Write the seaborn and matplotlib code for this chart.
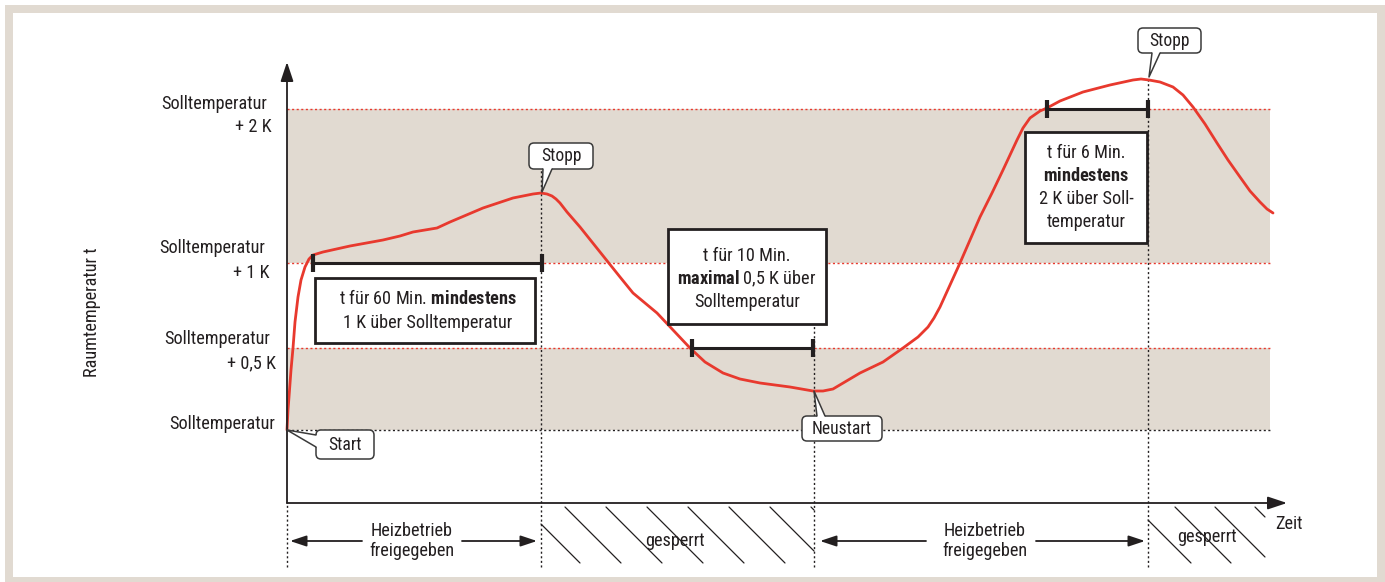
import matplotlib
matplotlib.use("Agg")
import matplotlib.pyplot as plt
from matplotlib import font_manager as fm
from matplotlib.patches import Rectangle, FancyBboxPatch, Polygon
import pandas as pd
import seaborn as sns

# schematic units: time t (x), height h above Solltemperatur (y); 1 h-unit ~ 100 t-units
t_curve = [0, 1, 2, 4, 6, 8, 11, 14, 18, 22, 26, 36, 63, 96, 113, 126, 138, 150, 163, 196,
           226, 246, 254, 260, 265, 269, 273, 280, 293, 313, 333, 346, 370, 403, 418, 436, 453, 473, 503, 526,
           536, 546, 573, 596, 616, 631, 641, 647, 653, 663, 673, 683, 693, 705, 716, 723, 730, 736, 743, 753,
           760, 773, 796, 823, 846, 854, 862, 873, 886, 896, 906, 918, 930, 941, 953, 963, 973, 980, 986]
h_curve = [0, 0.20, 0.33, 0.60, 0.82, 1.08, 1.33, 1.50, 1.63, 1.71, 1.75, 1.78, 1.84, 1.90, 1.94, 1.98, 2.00, 2.02, 2.08, 2.22,
           2.32, 2.36, 2.37, 2.36, 2.34, 2.31, 2.27, 2.18, 2.03, 1.78, 1.53, 1.37, 1.17, 0.82, 0.68, 0.57, 0.51, 0.47, 0.43, 0.39,
           0.39, 0.41, 0.57, 0.68, 0.82, 0.93, 1.03, 1.12, 1.23, 1.45, 1.67, 1.90, 2.13, 2.37, 2.60, 2.75, 2.90, 3.02, 3.12, 3.19,
           3.22, 3.29, 3.38, 3.45, 3.50, 3.51, 3.50, 3.48, 3.43, 3.35, 3.23, 3.06, 2.87, 2.70, 2.53, 2.39, 2.28, 2.21, 2.17]

# temperature levels (y "ticks")
level_h = [0, 0.82, 1.67, 3.21]
level_name = ["Solltemperatur", "Solltemperatur", "Solltemperatur", "Solltemperatur"]
level_sub = ["", "+ 0,5 K", "+ 1 K", "+ 2 K"]
name_pos = [(-12, 0.06), (-17, 0.91), (-22, 1.82), (-20, 3.26)]
sub_pos = [None, (-11, 0.67), (-17, 1.57), (-15, 3.03)]
t_end = 983

# events on the time axis
event_t = [0, 254, 527, 861]
event_name = ["Start", "Stopp", "Neustart", "Stopp"]

# hold-time brackets (t0, t1, level)
brackets = [(26, 255, 1.67), (405, 526, 0.82), (760, 861, 3.21)]

box_lines = [
    ["t für 60 Min. $\\mathbf{mindestens}$", "1 K über Solltemperatur"],
    ["t für 10 Min.", "$\\mathbf{maximal}$ 0,5 K über", "Solltemperatur"],
    ["t für 6 Min.", "$\\mathbf{mindestens}$", "2 K über Soll-", "temperatur"],
]
box_rect = [(28, 248, 0.87, 1.52), (381, 539, 1.06, 2.01), (738, 860, 1.87, 2.98)]
box_line_h = [[1.31, 1.07], [1.74, 1.51, 1.28], [2.77, 2.54, 2.31, 2.08]]
box_cx = [141, 460, 799]

phase_text = ["Heizbetrieb\nfreigegeben", "gesperrt", "Heizbetrieb\nfreigegeben", "gesperrt"]

RED = "#e8392e"
DARK = "#231f20"
BEIGE = "#e1dad1"

sns.set_theme(style="white")

# pick a narrow font if one is installed
fonts = fm.fontManager.ttflist
names = {f.name for f in fonts}
family, stretch = None, "normal"
for p in ["Liberation Sans Narrow", "Roboto Condensed", "Open Sans Condensed",
          "Noto Sans Condensed", "DejaVu Sans Condensed", "Arial Narrow"]:
    if p in names:
        family = p
        break
if family is None:
    for base in ["DejaVu Sans", "Noto Sans", "Roboto", "Open Sans", "Liberation Sans"]:
        cond = [f for f in fonts if f.name == base and f.stretch in ("condensed", "semi-condensed")]
        if cond:
            family, stretch = base, cond[0].stretch
            break
if family is None:
    family = "Roboto" if "Roboto" in names else "DejaVu Sans"

plt.rcParams["font.family"] = [family, "DejaVu Sans"]
plt.rcParams["font.stretch"] = stretch
plt.rcParams["mathtext.fontset"] = "custom"
plt.rcParams["mathtext.rm"] = f"{family}:stretch={stretch}"
plt.rcParams["mathtext.bf"] = f"{family}:weight=bold:stretch={stretch}"

fig = plt.figure(figsize=(13.85, 5.82), dpi=100)
fig.patch.set_facecolor("white")

# font size so that "Solltemperatur" is about as wide as in the original
probe = fig.text(0, 0, "Solltemperatur", fontsize=10)
w10 = probe.get_window_extent(fig.canvas.get_renderer()).width
probe.remove()
FS = min(14.3, 10 * 106 / w10)

# outer beige frame
fig.add_artist(Rectangle((5 / 1385, 0), 1.1, 1 - 5 / 582, transform=fig.transFigure,
                         facecolor=BEIGE, edgecolor="none", zorder=-20))
fig.add_artist(Rectangle((13 / 1385, 5 / 582), (1377 - 13) / 1385, (577 - 13) / 582,
                         transform=fig.transFigure, facecolor="white", edgecolor="none", zorder=-19))

ax = fig.add_axes([0, 0, 1, 1])
ax.set_xlim(-287, 1098)
ax.set_ylim(-1.52, 4.30)
ax.axis("off")

# bands
ax.fill_between([0, t_end], 0, level_h[1], color=BEIGE, lw=0, zorder=1)
ax.fill_between([0, t_end], level_h[2], level_h[3], color=BEIGE, lw=0, zorder=1)
for i, h in enumerate(level_h):
    ax.plot([0, t_end], [h, h], color=DARK if i == 0 else RED, lw=1.0,
            ls=(0, (1.5, 1.8)), zorder=2)

# level labels
for i in range(len(level_h)):
    ax.text(name_pos[i][0], name_pos[i][1], level_name[i], ha="right", va="center",
            fontsize=FS, color=DARK)
    if level_sub[i]:
        ax.text(sub_pos[i][0], sub_pos[i][1], level_sub[i], ha="right", va="center",
                fontsize=FS, color=DARK)
ax.text(-195, 1.18, "Raumtemperatur t", rotation=90, ha="center", va="center",
        fontsize=FS, color=DARK)

# axes arrows
h_axis = -0.73
head = dict(arrowstyle="-|>,head_length=0.9,head_width=0.3", color=DARK, lw=1.3,
            mutation_scale=13, shrinkA=0, shrinkB=0)
ax.annotate("", xy=(0, 3.68), xytext=(0, h_axis), arrowprops=head, zorder=5)
ax.annotate("", xy=(1000, h_axis), xytext=(0, h_axis), arrowprops=head, zorder=5)
ax.text(988, -0.94, "Zeit", ha="left", va="center", fontsize=FS, color=DARK)

# vertical event lines
v_top = [h_axis, 2.61, 1.06, 3.53]
for t, top in zip(event_t, v_top):
    ax.plot([t, t], [-1.37, top], color=DARK, lw=1.0, ls=(0, (1.5, 1.8)), zorder=3)

# curve
df = pd.DataFrame({"t": t_curve, "h": h_curve})
sns.lineplot(data=df, x="t", y="h", ax=ax, color=RED, lw=2.0, sort=False, zorder=4)

# brackets
for t0, t1, h in brackets:
    ax.plot([t0, t1], [h, h], color=DARK, lw=2.2, zorder=5, solid_capstyle="butt")
    for tt in (t0, t1):
        ax.plot([tt, tt], [h - 0.09, h + 0.09], color=DARK, lw=3.0, zorder=5, solid_capstyle="butt")

# text boxes
for (x0, x1, y0, y1), lines, lh, cx in zip(box_rect, box_lines, box_line_h, box_cx):
    ax.add_patch(Rectangle((x0, y0), x1 - x0, y1 - y0, facecolor="white", edgecolor=DARK,
                           lw=2.0, zorder=6))
    for s, y in zip(lines, lh):
        ax.text(cx, y, s, ha="center", va="center", fontsize=FS, color=DARK, zorder=7)

# callouts: center, width, height, tip, base points, inward offset
callouts = [
    ((58, -0.145), 58, 0.29, (0, 0), [(29, -0.05), (29, -0.17)], (3, 0)),
    ((274, 2.74), 64, 0.26, (255, 2.38), [(256, 2.61), (265, 2.61)], (0, 0.03)),
    ((555, 0.015), 80, 0.25, (527, 0.39), [(530, 0.14), (538, 0.14)], (0, -0.03)),
    ((882.5, 3.895), 63, 0.25, (862, 3.53), [(865, 3.77), (873, 3.77)], (0, 0.03)),
]
for ((cx, cy), w, hh, tip, (b1, b2), (dx, dy)), name in zip(callouts, event_name):
    ax.add_patch(FancyBboxPatch((cx - w / 2, cy - hh / 2), w, hh,
                                boxstyle="round,pad=0,rounding_size=5", mutation_aspect=0.01,
                                facecolor="white", edgecolor="#3a3a3a", lw=1.1, zorder=8))
    ax.add_patch(Polygon([(b1[0] + dx, b1[1] + dy), b1, tip, b2, (b2[0] + dx, b2[1] + dy)],
                         closed=True, facecolor="white", edgecolor="none", zorder=9))
    ax.plot([b1[0], tip[0], b2[0]], [b1[1], tip[1], b2[1]], color="#3a3a3a", lw=1.1, zorder=9)
    ax.text(cx, cy, name, ha="center", va="center", fontsize=FS - 0.5, color=DARK, zorder=10)


# hatched "gesperrt" phases
def hatch(t0, t1, htop, hbot, starts):
    for s in starts:
        ta, ya = s, htop
        tb, yb = s + 100 * (htop - hbot), hbot
        if ta < t0:
            ya = htop - (t0 - s) / 100
            ta = t0
        if tb > t1:
            yb = htop - (t1 - s) / 100
            tb = t1
        if ta < tb:
            ax.plot([ta, tb], [ya, yb], color=DARK, lw=0.9, zorder=3)


hatch(event_t[1], event_t[2], -0.77, -1.33, range(237, 530, 41))
hatch(event_t[3], 978, -0.77, -1.33, range(848, 980, 40))

# phase labels and arrows
h_ph = -1.11
arrow = dict(arrowstyle="-|>,head_length=0.9,head_width=0.3", color=DARK, lw=1.3,
             mutation_scale=11, shrinkA=0, shrinkB=0)
ax.text(125, h_ph, phase_text[0], ha="center", va="center", fontsize=FS, color=DARK)
ax.annotate("", xy=(3, h_ph), xytext=(75, h_ph), arrowprops=arrow)
ax.annotate("", xy=(250, h_ph), xytext=(175, h_ph), arrowprops=arrow)
ax.text(388, h_ph, phase_text[1], ha="center", va="center", fontsize=FS, color=DARK, zorder=4)
ax.text(698, h_ph, phase_text[2], ha="center", va="center", fontsize=FS, color=DARK)
ax.annotate("", xy=(533, h_ph), xytext=(639, h_ph), arrowprops=arrow)
ax.annotate("", xy=(858, h_ph), xytext=(749, h_ph), arrowprops=arrow)
ax.text(920, -1.07, phase_text[3], ha="center", va="center", fontsize=FS, color=DARK, zorder=4)

fig.savefig("out.png", dpi=100)
